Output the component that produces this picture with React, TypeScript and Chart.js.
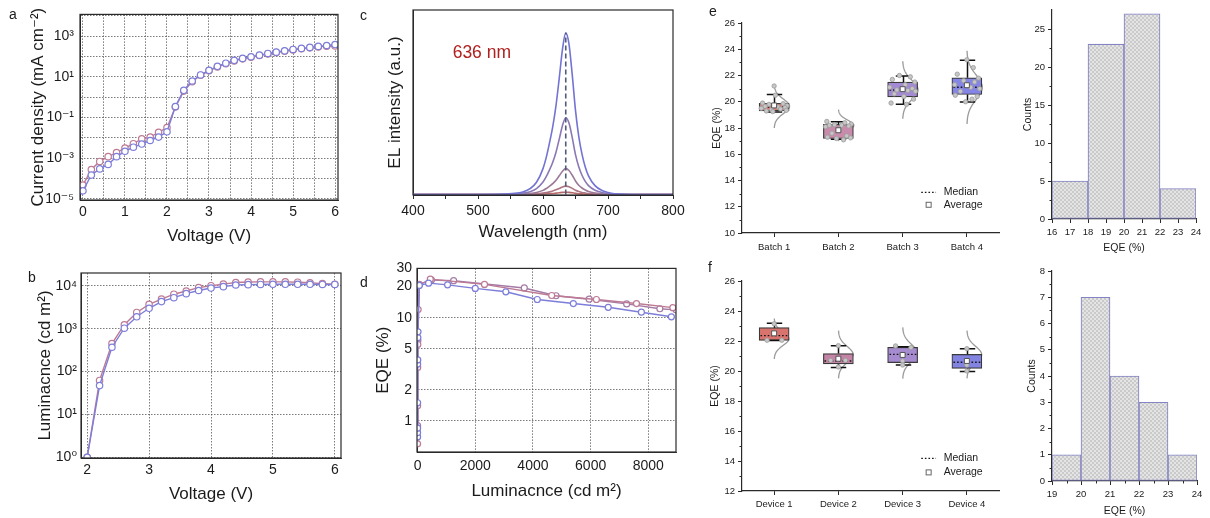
import React, { useEffect, useRef } from "react";
import { Chart, registerables } from "chart.js";

Chart.register(...registerables);

const FONT = '"Liberation Sans", Arial, Helvetica, "DejaVu Sans", sans-serif';
const TXT = "#1b1b1b";
const AXIS = "#2a2a2a";
const GRID = "rgba(70,70,70,0.8)";
const RED = "#bd7a94";
const MAUVE = "#a47aa6";
const BLUE = "#7d7dda";

Chart.defaults.font.family = FONT;
Chart.defaults.color = TXT;

// ---------------- Panel a : J-V ----------------
const A_VOLT = [0, 0.2, 0.4, 0.6, 0.8, 1.0, 1.2, 1.4, 1.6, 1.8, 2.0, 2.2, 2.4, 2.6, 2.8, 3.0, 3.2, 3.4, 3.6, 3.8, 4.0, 4.2, 4.4, 4.6, 4.8, 5.0, 5.2, 5.4, 5.6, 5.8, 6.0];
const A_J_RED = [4.8e-5, 2.8e-4, 7e-4, 1.2e-3, 1.9e-3, 3.2e-3, 5.2e-3, 9e-3, 1.1e-2, 1.9e-2, 3.2e-2, 0.33, 2.0, 5.8, 12, 20, 31, 44, 61, 77, 93, 112, 135, 158, 183, 212, 240, 268, 298, 320, 330];
const A_J_BLUE = [2.5e-5, 1.5e-4, 3e-4, 5e-4, 1.2e-3, 2.2e-3, 3.5e-3, 5e-3, 7.5e-3, 1.1e-2, 2e-2, 0.35, 2.2, 6.3, 12.5, 21, 33, 47, 65, 81, 98, 117, 142, 165, 192, 224, 252, 282, 316, 350, 390];
const A_X_TICKS = [0, 0.5, 1, 1.5, 2, 2.5, 3, 3.5, 4, 4.5, 5, 5.5, 6];
const A_X_LABELS = ["0", "", "1", "", "2", "", "3", "", "4", "", "5", "", "6"];
const A_Y_TICKS = [1e-5, 1e-4, 1e-3, 1e-2, 1e-1, 1, 10, 100, 1000, 10000];
const A_Y_LABELS = ["10⁻⁵", "", "10⁻³", "", "10⁻¹", "", "10¹", "", "10³", ""];

// ---------------- Panel b : L-V ----------------
const B_VOLT = [2.0, 2.2, 2.4, 2.6, 2.8, 3.0, 3.2, 3.4, 3.6, 3.8, 4.0, 4.2, 4.4, 4.6, 4.8, 5.0, 5.2, 5.4, 5.6, 5.8, 6.0];
const B_L_RED = [1, 62, 450, 1240, 2400, 3700, 4900, 6400, 7600, 9100, 10100, 11000, 12000, 12300, 12400, 12400, 12400, 12200, 11800, 11300, 10900];
const B_L_BLUE = [1, 47, 370, 1030, 1900, 3000, 4300, 5300, 6600, 7800, 8900, 9600, 10500, 10700, 10800, 10900, 10900, 10900, 10900, 10800, 10800];
const B_X_TICKS = [2, 3, 4, 5, 6];
const B_X_LABELS = ["2", "3", "4", "5", "6"];
const B_Y_TICKS = [1, 10, 100, 1000, 10000];
const B_Y_LABELS = ["10⁰", "10¹", "10²", "10³", "10⁴"];

// ---------------- Panel c : EL spectra ----------------
const C_WL = [400, 450, 500, 540, 560, 570, 580, 590, 600, 605, 610, 615, 620, 625, 630, 635, 640, 645, 650, 655, 660, 665, 670, 680, 690, 700, 710, 720, 740, 800];
const C_EL1 = [0, 0, 0, 0.002, 0.007, 0.014, 0.031, 0.066, 0.14, 0.201, 0.28, 0.368, 0.482, 0.631, 0.788, 0.876, 0.815, 0.648, 0.456, 0.315, 0.219, 0.149, 0.101, 0.048, 0.023, 0.011, 0.004, 0.002, 0, 0];
const C_EL2 = [0, 0, 0, 0.001, 0.003, 0.007, 0.015, 0.031, 0.067, 0.096, 0.133, 0.175, 0.229, 0.3, 0.374, 0.416, 0.387, 0.308, 0.216, 0.15, 0.104, 0.071, 0.048, 0.023, 0.011, 0.005, 0.002, 0.001, 0, 0];
const C_EL3 = [0, 0, 0, 0, 0.001, 0.002, 0.005, 0.011, 0.022, 0.032, 0.045, 0.059, 0.077, 0.101, 0.126, 0.14, 0.13, 0.104, 0.073, 0.05, 0.035, 0.024, 0.016, 0.008, 0.004, 0.002, 0.001, 0, 0, 0];
const C_EL4 = [0, 0, 0, 0, 0, 0.001, 0.002, 0.003, 0.007, 0.01, 0.014, 0.019, 0.025, 0.032, 0.041, 0.045, 0.042, 0.033, 0.023, 0.016, 0.011, 0.008, 0.005, 0.002, 0.001, 0.001, 0, 0, 0, 0];
const C_EL5 = [0, 0, 0, 0, 0, 0, 0, 0.001, 0.002, 0.003, 0.004, 0.005, 0.007, 0.009, 0.011, 0.012, 0.011, 0.009, 0.006, 0.004, 0.003, 0.002, 0.001, 0.001, 0, 0, 0, 0, 0, 0];
const C_PEAK_WL = 635;
const C_X_TICKS = [400, 450, 500, 550, 600, 650, 700, 750, 800];
const C_X_LABELS = ["400", "", "500", "", "600", "", "700", "", "800"];

// ---------------- Panel d : EQE-L ----------------
const D_L_RED = [0.5, 2, 5, 8, 20, 60, 440, 2320, 4650, 6200, 7590, 8850];
const D_EQE_RED = [0.6, 1.4, 3.3, 5.5, 12, 20.8, 23.6, 21.0, 16.4, 15.0, 13.7, 12.5];
const D_L_MAUVE = [1, 10, 60, 480, 1250, 3700, 4800, 5950, 7250, 8400, 8960];
const D_EQE_MAUVE = [0.9, 6.0, 21.0, 23.2, 22.8, 19.4, 16.3, 15.1, 13.6, 12.2, 11.9];
const D_L_BLUE = [0.2, 0.5, 1, 2, 4, 6, 10, 15, 60, 380, 1040, 2000, 3060, 4150, 5400, 6610, 7760, 8800];
const D_EQE_BLUE = [0.7, 0.77, 0.85, 1.5, 3.55, 3.9, 6.4, 7.3, 20.5, 21.6, 20.8, 19.2, 17.8, 15.0, 13.7, 12.6, 11.3, 10.2];
const D_X_TICKS = [0, 2000, 4000, 6000, 8000];
const D_X_LABELS = ["0", "2000", "4000", "6000", "8000"];
const D_Y_TICKS = [1, 2, 5, 10, 20, 30];
const D_Y_LABELS = ["1", "2", "5", "10", "20", "30"];

// ---------------- Panel e : batches ----------------
const E_LABELS = ["Batch 1", "Batch 2", "Batch 3", "Batch 4"];
const E_Q1 = [19.3, 17.2, 20.37, 20.55];
const E_Q3 = [19.88, 18.28, 21.49, 21.82];
const E_MED = [19.6, 18.2, 20.9, 21.1];
const E_MEAN = [19.72, 17.83, 20.96, 21.26];
const E_LO = [19.22, 17.14, 19.81, 19.99];
const E_HI = [20.55, 18.48, 21.97, 23.17];
const E_DIST_MEAN = [19.65, 18.2, 20.9, 21.1];
const E_DIST_SD = [0.55, 0.4, 0.73, 0.93];
const E_PTS_Y = [
  [21.2, 20.5, 19.9, 19.85, 19.8, 19.7, 19.65, 19.6, 19.55, 19.5, 19.45, 19.4, 19.35, 19.3, 19.25],
  [18.5, 18.4, 18.3, 18.25, 18.2, 18.2, 18.15, 18.1, 17.9, 17.6, 17.4, 17.3, 17.25, 17.2, 17.1],
  [22.0, 21.9, 21.7, 21.5, 21.3, 21.1, 21.0, 20.9, 20.85, 20.8, 20.6, 20.4, 20.2, 19.9, 19.8],
  [23.2, 22.6, 22.1, 21.8, 21.6, 21.5, 21.3, 21.1, 21.0, 20.8, 20.5, 20.4, 20.2, 20.0],
];
const E_PTS_DX = [
  [0, 0.02, -0.18, 0.14, -0.08, 0.2, -0.14, 0.06, 0.17, -0.2, 0.1, -0.04, 0.19, -0.12, -0.02],
  [-0.18, 0.1, 0.2, -0.06, -0.14, 0.05, 0.16, -0.2, 0.02, -0.1, 0.13, -0.17, 0.19, -0.03, 0.08],
  [-0.05, 0.12, -0.16, 0.19, 0.04, -0.2, 0.15, -0.09, 0.08, 0.2, -0.13, 0.02, 0.17, -0.18, 0.06],
  [0, 0.1, -0.15, 0.18, -0.05, 0.12, -0.19, 0.06, 0.2, -0.1, -0.18, 0.16, 0.08, -0.02],
];
const E_COLORS = ["#dc7a78", "#c98bab", "#a48ad4", "#8585e6"];
const E_Y_TICKS = [10, 12, 14, 16, 18, 20, 22, 24, 26];
const E_Y_MINOR = [11, 13, 15, 17, 19, 21, 23, 25];

const EH_CENTERS = [17, 19, 21, 23];
const EH_COUNTS = [5, 23, 27, 4];
const EH_X_TICKS = [16, 17, 18, 19, 20, 21, 22, 23, 24];
const EH_Y_TICKS = [0, 5, 10, 15, 20, 25];
const EH_Y_MINOR = [2.5, 7.5, 12.5, 17.5, 22.5];

// ---------------- Panel f : devices ----------------
const F_LABELS = ["Device 1", "Device 2", "Device 3", "Device 4"];
const F_Q1 = [22.04, 20.47, 20.56, 20.18];
const F_Q3 = [22.89, 21.16, 21.58, 21.11];
const F_MED = [22.36, 20.67, 21.11, 20.58];
const F_MEAN = [22.51, 20.82, 21.07, 20.67];
const F_LO = [22.04, 20.24, 20.4, 19.96];
const F_HI = [23.18, 21.69, 21.62, 21.49];
const F_DIST_MEAN = [22.15, 21.1, 21.2, 21.1];
const F_DIST_SD = [0.45, 0.53, 0.57, 0.53];
const F_PTS_Y = [
  [23.15, 22.55, 22.05, 22.05],
  [21.69, 20.71, 20.71, 20.27],
  [21.67, 21.56, 20.67, 20.4],
  [21.49, 20.67, 20.4, 20.0],
];
const F_PTS_DX = [
  [0, 0, -0.11, 0.12],
  [0, -0.12, 0.11, 0],
  [-0.11, 0.13, 0, 0],
  [0, 0, 0, 0],
];
const F_COLORS = ["#d9736e", "#c484a6", "#a68bd0", "#8383e2"];
const F_Y_TICKS = [12, 14, 16, 18, 20, 22, 24, 26];
const F_Y_MINOR = [13, 15, 17, 19, 21, 23, 25];

const FH_CENTERS = [19.5, 20.5, 21.5, 22.5, 23.5];
const FH_COUNTS = [1, 7, 4, 3, 1];
const FH_X_TICKS = [19, 20, 21, 22, 23, 24];
const FH_X_MINOR = [19.5, 20.5, 21.5, 22.5, 23.5];
const FH_Y_TICKS = [0, 1, 2, 3, 4, 5, 6, 7, 8];
const FH_Y_MINOR = [0.5, 1.5, 2.5, 3.5, 4.5, 5.5, 6.5, 7.5];

// ---------------- helpers ----------------
const fixW = (w: number) => (s: any) => { s.width = w; };
const fixH = (h: number) => (s: any) => { s.height = h; };
const setTicks = (vals: number[]) => (s: any) => { s.ticks = vals.map((value) => ({ value })); };
const labelFrom = (labels: string[]) => (_v: any, i: number) => labels[i];
const numLabels = (vals: number[]) => vals.map((v) => String(v));

function baseOpts(pad: any) {
  return {
    animation: false,
    responsive: false,
    devicePixelRatio: 1,
    events: [],
    layout: { padding: { bottom: 0, ...pad } },
    plugins: { legend: { display: false }, tooltip: { enabled: false } },
  };
}

function series(xs: number[], ys: number[], color: string, extra: any = {}) {
  return {
    data: xs.map((x, i) => ({ x, y: ys[i] })),
    borderColor: color,
    backgroundColor: "#fff",
    pointBackgroundColor: "#fff",
    pointBorderColor: color,
    pointRadius: 3.2,
    pointBorderWidth: 1.2,
    borderWidth: 1.4,
    tension: 0,
    ...extra,
  };
}

function fAxis(o: any) {
  return {
    type: o.type || "linear",
    min: o.min,
    max: o.max,
    afterBuildTicks: o.ticks ? setTicks(o.ticks) : undefined,
    afterFit: o.horizontal ? fixH(o.size) : fixW(o.size),
    ticks: {
      display: o.labels !== null,
      callback: o.labels ? labelFrom(o.labels) : undefined,
      autoSkip: false,
      maxRotation: 0,
      minRotation: 0,
      padding: o.pad ?? 5,
      font: { size: 14 },
      color: TXT,
    },
    grid: {
      display: o.gridOff ? false : true,
      drawOnChartArea: !o.noGrid,
      color: o.gridColor || GRID,
      lineWidth: 0.9,
      drawTicks: !!o.tickLen,
      tickLength: o.tickLen || 0,
      tickColor: AXIS,
      tickWidth: 1,
    },
    border: { display: true, color: AXIS, width: 1, dash: [1.5, 1.5] },
    title: { display: true, text: o.title, font: { size: 17 }, color: TXT, padding: { top: 4, bottom: 4 } },
  };
}

function bAxis(o: any) {
  return {
    type: "linear",
    min: o.min,
    max: o.max,
    offset: false,
    afterBuildTicks: setTicks(o.ticks),
    afterFit: o.horizontal ? fixH(o.size) : fixW(o.size),
    ticks: {
      callback: labelFrom(o.labels),
      autoSkip: false,
      maxRotation: 0,
      minRotation: 0,
      padding: o.pad ?? 3,
      font: { size: 9.5 },
      color: TXT,
    },
    grid: { offset: false, drawOnChartArea: false, drawTicks: true, tickLength: 4, tickColor: AXIS, tickWidth: 1 },
    border: { display: true, color: AXIS, width: 1.2 },
    title: o.title
      ? { display: true, text: o.title, font: { size: 10.5 }, color: TXT, padding: { top: 4, bottom: o.titleBottom ?? 4 } }
      : { display: false },
  };
}

const framePlugin = {
  id: "frame",
  afterDatasetsDraw(chart: any) {
    const a = chart.chartArea;
    const ctx = chart.ctx;
    ctx.save();
    ctx.strokeStyle = AXIS;
    ctx.lineWidth = 1.2;
    ctx.strokeRect(a.left, a.top, a.right - a.left, a.bottom - a.top);
    ctx.restore();
  },
};

function minorTicks(xv: number[], yv: number[], len = 2.5) {
  return {
    id: "minorTicks",
    afterDraw(chart: any) {
      const { ctx, chartArea: a, scales } = chart;
      ctx.save();
      ctx.strokeStyle = AXIS;
      ctx.lineWidth = 1;
      ctx.beginPath();
      xv.forEach((v) => {
        const p = Math.round(scales.x.getPixelForValue(v)) + 0.5;
        ctx.moveTo(p, a.bottom);
        ctx.lineTo(p, a.bottom + len);
      });
      yv.forEach((v) => {
        const p = Math.round(scales.y.getPixelForValue(v)) + 0.5;
        ctx.moveTo(a.left, p);
        ctx.lineTo(a.left - len, p);
      });
      ctx.stroke();
      ctx.restore();
    },
  };
}

function makeHatch() {
  const c = document.createElement("canvas");
  c.width = 4;
  c.height = 4;
  const g = c.getContext("2d")!;
  g.fillStyle = "#e4e4e4";
  g.fillRect(0, 0, 4, 4);
  g.strokeStyle = "rgba(140,140,140,0.5)";
  g.lineWidth = 0.6;
  g.beginPath();
  g.moveTo(0, 4);
  g.lineTo(4, 0);
  g.moveTo(0, 0);
  g.lineTo(4, 4);
  g.stroke();
  return g.createPattern(c, "repeat");
}

// ---------------- chart builders ----------------
function makeA() {
  return {
    type: "line",
    data: { datasets: [series(A_VOLT, A_J_BLUE, BLUE), series(A_VOLT, A_J_RED, RED)] },
    options: {
      ...baseOpts({ left: 24, top: 13, right: 7 }),
      scales: {
        x: fAxis({ min: -0.07, max: 6.07, ticks: A_X_TICKS, labels: A_X_LABELS, size: 51, horizontal: true, title: "Voltage (V)", pad: 4 }),
        y: fAxis({ type: "logarithmic", min: 8.9e-6, max: 1.18e4, ticks: A_Y_TICKS, labels: A_Y_LABELS, size: 56, title: "Current density (mA cm⁻²)", pad: 6 }),
      },
    },
    plugins: [framePlugin],
  };
}

function makeB() {
  return {
    type: "line",
    data: { datasets: [series(B_VOLT, B_L_BLUE, BLUE), series(B_VOLT, B_L_RED, RED)] },
    options: {
      ...baseOpts({ left: 31, top: 18, right: 9 }),
      scales: {
        x: fAxis({ min: 1.9, max: 6.1, ticks: B_X_TICKS, labels: B_X_LABELS, size: 51, horizontal: true, title: "Voltage (V)", pad: 4 }),
        y: fAxis({ type: "logarithmic", min: 0.96, max: 2.0e4, ticks: B_Y_TICKS, labels: B_Y_LABELS, size: 50, title: "Luminacnce (cd m²)", pad: 4 }),
      },
    },
    plugins: [framePlugin],
  };
}

function makeC() {
  const spec = (ys: number[], color: string) => ({
    data: C_WL.map((x, i) => ({ x, y: ys[i] })),
    borderColor: color,
    borderWidth: 1.6,
    pointRadius: 0,
    cubicInterpolationMode: "monotone",
    tension: 0.4,
  });
  const peak = Math.max(...C_EL1);
  const labelPlugin = {
    id: "peakLabel",
    afterDraw(chart: any) {
      const { ctx, scales } = chart;
      ctx.save();
      ctx.font = `17.5px ${FONT}`;
      ctx.fillStyle = "#b0201e";
      ctx.textAlign = "left";
      ctx.textBaseline = "middle";
      ctx.fillText(`${C_PEAK_WL + 1} nm`, scales.x.getPixelForValue(461), scales.y.getPixelForValue(0.768));
      ctx.restore();
    },
  };
  return {
    type: "line",
    data: {
      datasets: [
        {
          data: [{ x: C_PEAK_WL, y: 0 }, { x: C_PEAK_WL, y: peak }],
          borderColor: "#4f5b78",
          borderDash: [5, 3],
          borderWidth: 1.6,
          pointRadius: 0,
        },
        spec(C_EL1, "#7373d3"),
        spec(C_EL2, "#8a78b5"),
        spec(C_EL3, "#9c7898"),
        spec(C_EL4, "#ad7583"),
        spec(C_EL5, "#b86a6a"),
      ],
    },
    options: {
      ...baseOpts({ left: 21, top: 10, right: 27 }),
      scales: {
        x: fAxis({ min: 400, max: 800, ticks: C_X_TICKS, labels: C_X_LABELS, size: 52, horizontal: true, title: "Wavelength (nm)", pad: 4, noGrid: true, tickLen: 4 }),
        y: fAxis({ min: -0.003, max: 1, labels: null, size: 32, title: "EL intensity (a.u.)", gridOff: true }),
      },
    },
    plugins: [framePlugin, labelPlugin],
  };
}

function makeD() {
  const gridColor = (ctx: any) => (ctx.tick && (ctx.tick.value === 20 || ctx.tick.value === 30) ? "rgba(0,0,0,0)" : GRID);
  return {
    type: "line",
    data: {
      datasets: [
        series(D_L_BLUE, D_EQE_BLUE, BLUE, { pointRadius: 3 }),
        series(D_L_RED, D_EQE_RED, RED, { pointRadius: 3 }),
        series(D_L_MAUVE, D_EQE_MAUVE, MAUVE, { pointRadius: 3 }),
      ],
    },
    options: {
      ...baseOpts({ left: 9, top: 12, right: 24 }),
      scales: {
        x: fAxis({ min: -20, max: 8960, ticks: D_X_TICKS, labels: D_X_LABELS, size: 54, horizontal: true, title: "Luminacnce (cd m²)", pad: 6 }),
        y: fAxis({ type: "logarithmic", min: 0.5, max: 30, ticks: D_Y_TICKS, labels: D_Y_LABELS, size: 48, title: "EQE (%)", pad: 5, gridColor }),
      },
    },
    plugins: [framePlugin],
  };
}

function boxPlugin(s: any) {
  return {
    id: "boxExtras",
    beforeDatasetsDraw(chart: any) {
      const { ctx, scales } = chart;
      const xs = scales.x, ys = scales.y;
      const unit = xs.getPixelForValue(1) - xs.getPixelForValue(0);
      ctx.save();
      ctx.strokeStyle = "#9a9a9a";
      ctx.lineWidth = 1.3;
      s.distMean.forEach((m: number, i: number) => {
        const sd = s.distSd[i];
        const cx = xs.getPixelForValue(i);
        ctx.beginPath();
        for (let k = 0; k <= 80; k++) {
          const v = m + 3 * sd - (6 * sd * k) / 80;
          const d = Math.exp(-0.5 * ((v - m) / sd) ** 2);
          const px = cx + d * s.amp * unit;
          const py = ys.getPixelForValue(v);
          if (k === 0) ctx.moveTo(px, py);
          else ctx.lineTo(px, py);
        }
        ctx.stroke();
      });
      ctx.restore();
    },
    afterDatasetDraw(chart: any, args: any) {
      if (args.meta.type !== "bar") return;
      const { ctx, scales } = chart;
      const xs = scales.x, ys = scales.y;
      const unit = xs.getPixelForValue(1) - xs.getPixelForValue(0);
      ctx.save();
      s.q1.forEach((q1: number, i: number) => {
        const cx = Math.round(xs.getPixelForValue(i)) + 0.5;
        const cap = 0.12 * unit;
        const half = 15;
        const pHi = ys.getPixelForValue(s.hi[i]);
        const pLo = ys.getPixelForValue(s.lo[i]);
        const pQ3 = ys.getPixelForValue(s.q3[i]);
        const pQ1 = ys.getPixelForValue(q1);
        ctx.setLineDash([]);
        ctx.strokeStyle = "#111";
        ctx.lineWidth = 1.5;
        ctx.beginPath();
        ctx.moveTo(cx, pQ3);
        ctx.lineTo(cx, pHi);
        ctx.moveTo(cx - cap, pHi);
        ctx.lineTo(cx + cap, pHi);
        ctx.moveTo(cx, pQ1);
        ctx.lineTo(cx, pLo);
        ctx.moveTo(cx - cap, pLo);
        ctx.lineTo(cx + cap, pLo);
        ctx.stroke();
        const pMed = ys.getPixelForValue(s.med[i]);
        ctx.setLineDash([1.6, 2]);
        ctx.lineWidth = 1.4;
        ctx.strokeStyle = "#151515";
        ctx.beginPath();
        ctx.moveTo(cx - half + 1, pMed);
        ctx.lineTo(cx + half - 1, pMed);
        ctx.stroke();
      });
      ctx.restore();
    },
    afterDraw(chart: any) {
      const { ctx, scales } = chart;
      const xs = scales.x, ys = scales.y;
      const y1 = ys.getPixelForValue(s.legendY[0]);
      const y2 = ys.getPixelForValue(s.legendY[1]);
      ctx.save();
      ctx.strokeStyle = "#151515";
      ctx.lineWidth = 1.3;
      ctx.setLineDash([1.6, 2]);
      ctx.beginPath();
      ctx.moveTo(xs.getPixelForValue(2.29), y1);
      ctx.lineTo(xs.getPixelForValue(2.52), y1);
      ctx.stroke();
      ctx.setLineDash([]);
      const sx = xs.getPixelForValue(2.405);
      ctx.fillStyle = "#fff";
      ctx.strokeStyle = "#666";
      ctx.lineWidth = 1;
      ctx.fillRect(sx - 2.5, y2 - 2.5, 5, 5);
      ctx.strokeRect(sx - 2.5, y2 - 2.5, 5, 5);
      ctx.fillStyle = TXT;
      ctx.font = `10.5px ${FONT}`;
      ctx.textAlign = "left";
      ctx.textBaseline = "middle";
      ctx.fillText("Median", xs.getPixelForValue(2.64), y1);
      ctx.fillText("Average", xs.getPixelForValue(2.64), y2);
      ctx.restore();
    },
  };
}

function makeBox(s: any, lay: any) {
  return {
    type: "bar",
    data: {
      datasets: [
        {
          type: "scatter",
          order: 1,
          data: s.ptsY.flatMap((arr: number[], i: number) => arr.map((y, k) => ({ x: i + s.ptsDx[i][k], y }))),
          pointRadius: 2.2,
          pointBackgroundColor: "#c6c6c6",
          pointBorderColor: "#9c9c9c",
          pointBorderWidth: 0.8,
        },
        {
          type: "scatter",
          order: 0,
          data: s.mean.map((y: number, i: number) => ({ x: i, y })),
          pointStyle: "rect",
          pointRadius: 3.5,
          pointBackgroundColor: "#fff",
          pointBorderColor: "#555",
          pointBorderWidth: 1,
        },
        {
          type: "bar",
          order: 2,
          data: s.q1.map((q: number, i: number) => ({ x: i, y: [q, s.q3[i]] })),
          backgroundColor: s.colors,
          borderColor: "#3a3a3a",
          borderWidth: 1.2,
          borderSkipped: false,
          barThickness: 30,
        },
      ],
    },
    options: {
      ...baseOpts(lay.pad),
      scales: {
        x: bAxis({ min: -0.5, max: 3.5, ticks: [0, 1, 2, 3], labels: s.labels, size: lay.xH, horizontal: true, pad: lay.xPad }),
        y: bAxis({ min: s.yMin, max: 26, ticks: s.yTicks, labels: numLabels(s.yTicks), size: lay.yW, title: "EQE (%)" }),
      },
    },
    plugins: [boxPlugin(s), minorTicks([], s.yMinor)],
  };
}

function makeHist(h: any, lay: any) {
  return {
    type: "bar",
    data: {
      datasets: [
        {
          data: h.centers.map((x: number, i: number) => ({ x, y: h.counts[i] })),
          backgroundColor: makeHatch(),
          borderColor: "#8484c4",
          borderWidth: 1.1,
          borderSkipped: false,
          barThickness: "flex",
          barPercentage: 1,
          categoryPercentage: 1,
        },
      ],
    },
    options: {
      ...baseOpts(lay.pad),
      scales: {
        x: bAxis({ min: h.xTicks[0], max: h.xTicks[h.xTicks.length - 1], ticks: h.xTicks, labels: numLabels(h.xTicks), size: lay.xH, horizontal: true, title: "EQE (%)", pad: 4, titleBottom: lay.titleBottom }),
        y: bAxis({ min: 0, max: h.yMax, ticks: h.yTicks, labels: numLabels(h.yTicks), size: lay.yW, title: "Counts" }),
      },
    },
    plugins: [minorTicks(h.xMinor, h.yMinor)],
  };
}

const makeE = () =>
  makeBox(
    {
      labels: E_LABELS, q1: E_Q1, q3: E_Q3, med: E_MED, mean: E_MEAN, lo: E_LO, hi: E_HI,
      distMean: E_DIST_MEAN, distSd: E_DIST_SD, ptsY: E_PTS_Y, ptsDx: E_PTS_DX, colors: E_COLORS,
      yMin: 10, yTicks: E_Y_TICKS, yMinor: E_Y_MINOR, legendY: [13.1, 12.15], amp: 0.24,
    },
    { pad: { left: 7, top: 23, right: 3 }, xH: 25, yW: 35, xPad: 5 }
  );

const makeF = () =>
  makeBox(
    {
      labels: F_LABELS, q1: F_Q1, q3: F_Q3, med: F_MED, mean: F_MEAN, lo: F_LO, hi: F_HI,
      distMean: F_DIST_MEAN, distSd: F_DIST_SD, ptsY: F_PTS_Y, ptsDx: F_PTS_DX, colors: F_COLORS,
      yMin: 12, yTicks: F_Y_TICKS, yMinor: F_Y_MINOR, legendY: [14.18, 13.24], amp: 0.23,
    },
    { pad: { left: 5, top: 26, right: 3 }, xH: 26, yW: 37, xPad: 4 }
  );

const makeEH = () =>
  makeHist(
    { centers: EH_CENTERS, counts: EH_COUNTS, xTicks: EH_X_TICKS, xMinor: [], yTicks: EH_Y_TICKS, yMinor: EH_Y_MINOR, yMax: 27.5 },
    { pad: { left: 13, top: 10, right: 14 }, xH: 39, yW: 34 }
  );

const makeFH = () =>
  makeHist(
    { centers: FH_CENTERS, counts: FH_COUNTS, xTicks: FH_X_TICKS, xMinor: FH_X_MINOR, yTicks: FH_Y_TICKS, yMinor: FH_Y_MINOR, yMax: 8 },
    { pad: { left: 17, top: 16, right: 13 }, xH: 36, yW: 30, titleBottom: 0 }
  );

function Panel({ box, make }: { box: number[]; make: () => any }) {
  const ref = useRef<HTMLCanvasElement | null>(null);
  useEffect(() => {
    if (!ref.current) return;
    const chart = new Chart(ref.current, make());
    return () => chart.destroy();
  }, []);
  const [left, top, width, height] = box;
  return (
    <canvas
      ref={ref}
      width={width}
      height={height}
      style={{ position: "absolute", left, top, width, height }}
    />
  );
}

const PANEL_LABELS: [string, number, number][] = [
  ["a", 9, 7],
  ["b", 28, 270],
  ["c", 360, 8],
  ["d", 360, 275],
  ["e", 709, 4],
  ["f", 708, 260],
];

export default function App() {
  return (
    <div
      style={{
        position: "fixed",
        left: 0,
        top: 0,
        width: 1210,
        height: 518,
        background: "#fff",
        overflow: "hidden",
        fontFamily: FONT,
      }}
    >
      <Panel box={[0, 0, 345, 251]} make={makeA} />
      <Panel box={[0, 255, 350, 254]} make={makeB} />
      <Panel box={[360, 0, 340, 247]} make={makeC} />
      <Panel box={[360, 255, 340, 251]} make={makeD} />
      <Panel box={[700, 0, 304, 258]} make={makeE} />
      <Panel box={[700, 255, 304, 262]} make={makeF} />
      <Panel box={[1005, 0, 205, 258]} make={makeEH} />
      <Panel box={[1005, 255, 205, 262]} make={makeFH} />
      {PANEL_LABELS.map(([t, l, tp]) => (
        <span
          key={t}
          style={{ position: "absolute", left: l, top: tp, fontSize: 14, lineHeight: "14px", color: TXT }}
        >
          {t}
        </span>
      ))}
    </div>
  );
}
